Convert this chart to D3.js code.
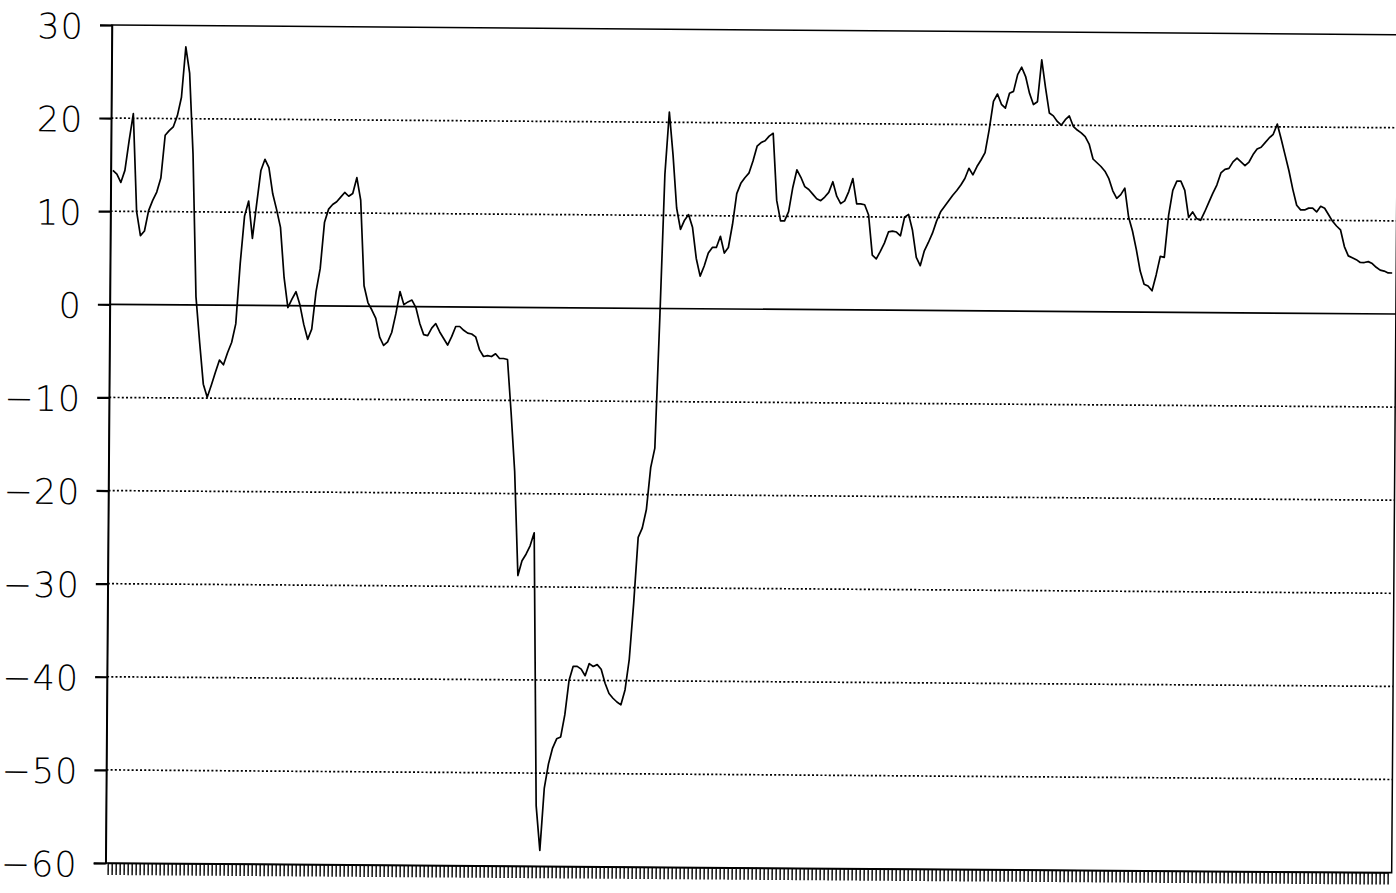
<!DOCTYPE html>
<html>
<head>
<meta charset="utf-8">
<script src="https://cdn.jsdelivr.net/npm/d3@7"></script>
<style>
  html, body { margin: 0; padding: 0; background: #fff; }
  svg { display: block; }
  .ylab { font-family: "DejaVu Sans", sans-serif; font-weight: 200; font-size: 35px; fill: #000; letter-spacing: 1px; }
</style>
</head>
<body>
<svg id="chart" width="1396" height="893"></svg>
<script>
// ---- data ----
const yTickValues = [30, 20, 10, 0, -10, -20, -30, -40, -50, -60];
const yTickLabels = ["30", "20", "10", "0", "\u221210", "\u221220", "\u221230", "\u221240", "\u221250", "\u221260"];
const yDomain = [-60, 30];

const values = [
  14.4, 14.0, 13.1, 14.4, 17.6, 20.5, 10.0, 7.4, 7.9, 10.1,
  11.2, 12.1, 13.6, 18.2, 18.7, 19.1, 20.3, 22.3, 27.7, 24.9,
  16.2, 0.9, -4.0, -8.5, -9.9, -8.6, -7.2, -5.9, -6.4, -5.1,
  -4.0, -2.0, 4.5, 9.6, 11.2, 7.2, 10.9, 14.5, 15.7, 14.8,
  12.0, 10.3, 8.4, 3.0, -0.2, 0.7, 1.5, 0.1, -2.0, -3.6,
  -2.5, 1.5, 4.0, 9.0, 10.4, 10.9, 11.2, 11.7, 12.2, 11.8,
  12.1, 13.8, 11.4, 2.2, 0.4, -0.4, -1.3, -3.3, -4.2, -3.8,
  -2.8, -0.8, 1.6, 0.2, 0.5, 0.7, -0.1, -1.8, -3.0, -3.1,
  -2.3, -1.8, -2.7, -3.4, -4.1, -3.2, -2.1, -2.1, -2.5, -2.8,
  -2.9, -3.2, -4.6, -5.3, -5.2, -5.3, -5.0, -5.5, -5.5, -5.6,
  -11.3, -17.6, -28.8, -27.2, -26.5, -25.6, -24.2, -53.5, -58.3, -51.6,
  -49.0, -47.3, -46.3, -46.1, -43.7, -40.0, -38.5, -38.5, -38.8, -39.5,
  -38.2, -38.5, -38.3, -38.8, -40.3, -41.4, -41.9, -42.3, -42.6, -41.0,
  -37.7, -31.7, -24.6, -23.6, -21.6, -17.1, -15.0, -1.0, 14.4, 21.1,
  16.5, 10.8, 8.5, 9.5, 10.1, 8.75, 5.4, 3.5, 4.6, 6.0,
  6.6, 6.6, 7.8, 6.0, 6.6, 9.1, 12.4, 13.5, 14.1, 14.6,
  15.9, 17.5, 17.9, 18.1, 18.6, 18.9, 11.7, 9.5, 9.5, 10.5,
  13.1, 15.0, 14.2, 13.2, 12.9, 12.4, 11.9, 11.7, 12.1, 12.6,
  13.75, 12.2, 11.4, 11.7, 12.7, 14.1, 11.4, 11.4, 11.3, 10.2,
  5.9, 5.5, 6.3, 7.2, 8.4, 8.5, 8.4, 8.0, 10.0, 10.3,
  8.6, 5.7, 4.8, 6.4, 7.3, 8.3, 9.6, 10.6, 11.2, 11.8,
  12.4, 12.9, 13.5, 14.2, 15.3, 14.6, 15.5, 16.2, 17.0, 19.5,
  22.5, 23.3, 22.2, 21.8, 23.4, 23.6, 25.4, 26.2, 25.2, 23.4,
  22.2, 22.5, 27.0, 24.0, 21.3, 21.0, 20.4, 20.0, 20.6, 21.0,
  19.9, 19.5, 19.2, 18.8, 18.0, 16.4, 16.0, 15.6, 15.1, 14.3,
  13.0, 12.2, 12.6, 13.3, 10.2, 8.7, 6.7, 4.4, 3.0, 2.8,
  2.3, 4.0, 6.0, 5.9, 10.4, 13.1, 14.1, 14.1, 13.1, 10.2,
  10.8, 10.1, 9.9, 10.8, 11.8, 12.8, 13.7, 15.0, 15.4, 15.5,
  16.2, 16.6, 16.2, 15.8, 16.2, 17.0, 17.6, 17.8, 18.3, 18.8,
  19.2, 20.3, 18.7, 17.0, 15.3, 13.3, 11.6, 11.1, 11.1, 11.3,
  11.3, 10.9, 11.5, 11.3, 10.6, 9.9, 9.4, 9.0, 7.2, 6.2,
  6.0, 5.8, 5.5, 5.5, 5.6, 5.4, 5.0, 4.7, 4.6, 4.4,
  4.4
];
const periods = d3.range(values.length);

// ---- layout ----
const M = { left: 112, right: 1398, top: 25, bottom: 863 };
const tilt = 0.43; // the reference is a slightly tilted scan

const svg = d3.select("#chart");
const g = svg.append("g").attr("transform", `rotate(${tilt}, ${M.left}, ${M.top})`);

const x = d3.scaleLinear().domain([0, values.length - 1]).range([M.left + 2, M.right - 4]);
const y = d3.scaleLinear().domain(yDomain).range([M.bottom, M.top]);

// gridlines
g.append("g").selectAll("line")
  .data(yTickValues.filter(v => v !== 30 && v !== -60))
  .join("line")
  .attr("x1", M.left).attr("x2", M.right)
  .attr("y1", d => y(d)).attr("y2", d => y(d))
  .attr("stroke", "#000")
  .attr("stroke-width", 1.7)
  .attr("stroke-dasharray", d => d === 0 ? null : "2,2.2");

// frame
g.append("rect")
  .attr("x", M.left).attr("y", M.top)
  .attr("width", M.right - M.left).attr("height", M.bottom - M.top)
  .attr("fill", "none").attr("stroke", "#000").attr("stroke-width", 1.5);

// y axis
const yAxis = d3.axisLeft(y)
  .tickValues(yTickValues)
  .tickFormat((d, i) => yTickLabels[i])
  .tickSize(12)
  .tickPadding(16);
const ya = g.append("g").attr("transform", `translate(${M.left},0)`).call(yAxis);
ya.attr("font-family", null).attr("font-size", null);
ya.select(".domain").attr("stroke", "#000").attr("stroke-width", 1.5);
ya.selectAll(".tick line").attr("stroke", "#000").attr("stroke-width", 2.2);
ya.selectAll(".tick text").attr("class", "ylab").attr("dy", "0.38em");

// x axis ticks
const xAxis = d3.axisBottom(x)
  .tickValues(periods)
  .tickFormat(() => "")
  .tickSizeInner(12)
  .tickSizeOuter(0);
const xa = g.append("g").attr("transform", `translate(0,${M.bottom})`).call(xAxis);
xa.select(".domain").attr("stroke", "#000").attr("stroke-width", 1.5);
xa.selectAll(".tick line").attr("stroke", "#000").attr("stroke-width", 1.4);

// series line
const line = d3.line()
  .x((d, i) => x(periods[i]))
  .y(d => y(d));
g.append("path")
  .datum(values)
  .attr("d", line)
  .attr("fill", "none")
  .attr("stroke", "#000")
  .attr("stroke-width", 1.7)
  .attr("stroke-linejoin", "round");
</script>
</body>
</html>
